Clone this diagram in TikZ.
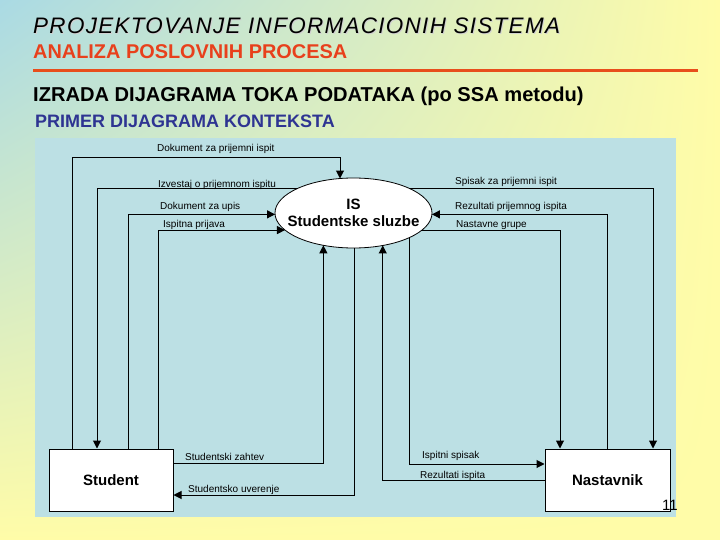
\documentclass[tikz,border=0pt]{standalone}
\usepackage{fontspec}
\setmainfont{Liberation Sans}
\usetikzlibrary{shapes.geometric,arrows.meta,shadings}
\definecolor{bgblue}{RGB}{170,218,228}
\definecolor{bgyellow}{RGB}{255,252,168}
\definecolor{panel}{RGB}{188,224,228}
\definecolor{orangeline}{RGB}{232,78,28}
\definecolor{redtxt}{RGB}{232,64,28}
\definecolor{bluetxt}{RGB}{46,52,146}
\begin{document}
\begin{tikzpicture}[x=1pt,y=-1pt,
  lbl/.style={anchor=base west, inner sep=0pt, font=\fontsize{10}{12}\selectfont},
  hdr/.style={anchor=base west, inner sep=0pt},
  arr/.style={line width=1pt, -{Triangle[length=8pt,width=8pt]}},
  entity/.style={draw, fill=white, line width=1pt, minimum height=62pt, inner sep=0pt, font=\bfseries\fontsize{15}{17}\selectfont},
  proc/.style={ellipse, draw, fill=white, line width=0.8pt, minimum width=157pt, minimum height=70pt, inner sep=0pt, outer sep=0pt}
]
\useasboundingbox (0,0) rectangle (720,540);
\shade[upper left=bgblue, upper right=bgyellow, lower left=bgyellow, lower right=bgyellow] (0,0) rectangle (720,540);

% headers
\node[hdr, text=black!18, font=\fontsize{22.4}{24}\selectfont\itshape\addfontfeature{LetterSpace=6}] (titlesh) at (34,34.5) {PROJEKTOVANJE INFORMACIONIH SISTEMA};
\node[hdr, font=\fontsize{22.4}{24}\selectfont\itshape\addfontfeature{LetterSpace=6}] (title) at (33,33.5) {PROJEKTOVANJE INFORMACIONIH SISTEMA};
\node[hdr, text=redtxt, font=\fontsize{19.9}{22}\selectfont\bfseries] (sub) at (33,59) {ANALIZA POSLOVNIH PROCESA};
\draw[line width=3pt, orangeline] (33,71) -- (698,71);
\node[hdr, font=\fontsize{20.1}{22}\selectfont\bfseries] (h2) at (33,102) {IZRADA DIJAGRAMA TOKA PODATAKA (po SSA metodu)};
\node[hdr, text=bluetxt, font=\fontsize{18}{20}\selectfont\bfseries] (h3) at (35,128) {PRIMER DIJAGRAMA KONTEKSTA};

% panel
\fill[panel] (35,138) rectangle (676,517);

% nodes
\node[proc] (is) at (353.5,213) {};
\node[align=center, inner sep=0pt, font=\bfseries\fontsize{15}{17}\selectfont] (ist) at (353.5,213) {IS\\Studentske sluzbe};
\node[entity, minimum width=124pt] (st) at (111,480) {Student};
\node[entity, minimum width=125pt] (na) at (607.5,480) {Nastavnik};

\coordinate (t1) at (340,158);

% connectors Student side
\draw[arr] ([xshift=-39pt]st.north) |- (t1) -- (t1 |- is.111);
\draw[arr] (is.157) -| ([xshift=-14pt]st.north);
\draw[arr] ([xshift=17pt]st.north) |- (is.181);
\draw[arr] ([xshift=47pt]st.north) |- (is.194);
\draw[arr] ([yshift=17pt]st.east) -| (is.227);
\draw[arr] (is.271) |- ([yshift=-15pt]st.east);

% connectors Nastavnik side
\draw[arr] (is.23) -| ([xshift=45.5pt]na.north);
\draw[arr] (na.north) |- (is.359);
\draw[arr] (is.346) -| ([xshift=-47.5pt]na.north);
\draw[arr] (is.336) |- ([yshift=16pt]na.west);
\draw[arr] (na.west) -| (is.312);

% labels
\node[lbl] (l1) at (157,152) {Dokument za prijemni ispit};
\node[lbl] (l2) at (158,187.5) {Izvestaj o prijemnom ispitu};
\node[lbl] (l3) at (160,210) {Dokument za upis};
\node[lbl] (l4) at (163,227) {Ispitna prijava};
\node[lbl] (r1) at (455,185) {Spisak za prijemni ispit};
\node[lbl] (r2) at (455,210) {Rezultati prijemnog ispita};
\node[lbl] (r3) at (456,227) {Nastavne grupe};
\node[lbl] (b1) at (185,460.5) {Studentski zahtev};
\node[lbl] (b2) at (188,492) {Studentsko uverenje};
\node[lbl] (b3) at (422,458) {Ispitni spisak};
\node[lbl] (b4) at (420,478) {Rezultati ispita};

\node[hdr, font=\fontsize{15}{17}\selectfont] (pg) at (662,510) {11};
\end{tikzpicture}
\end{document}
